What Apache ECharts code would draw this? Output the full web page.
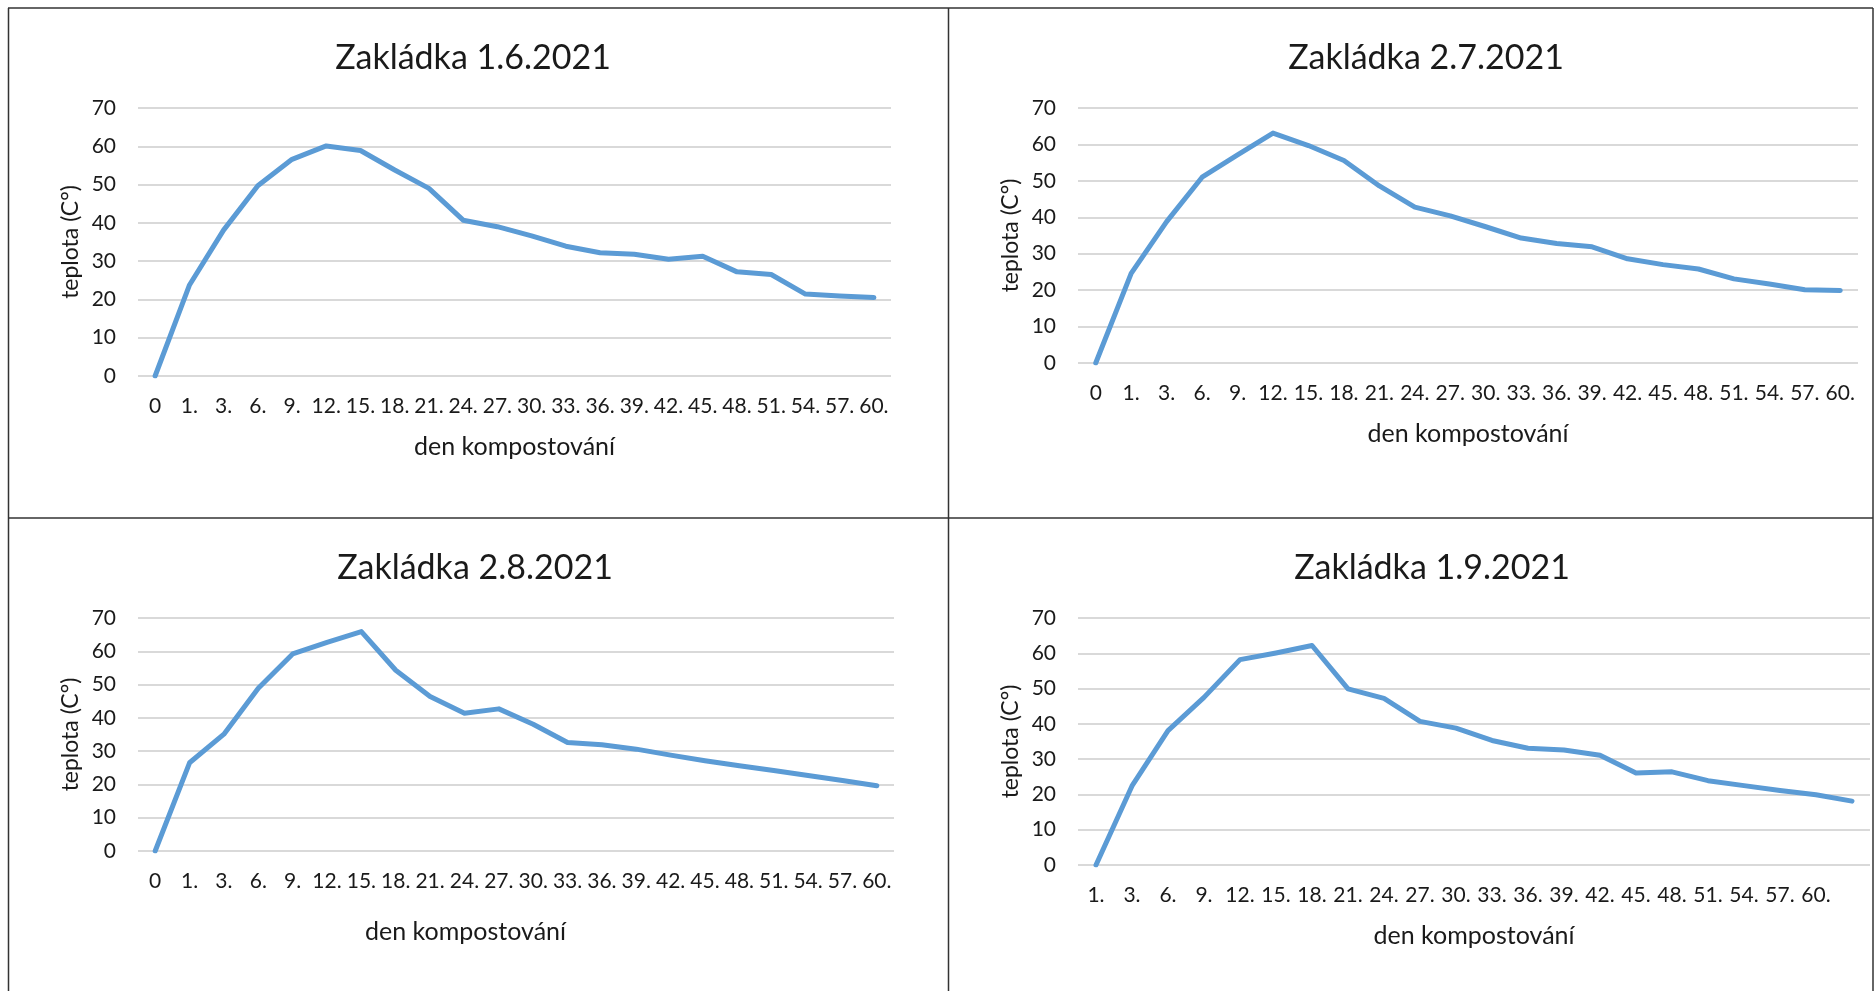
<!DOCTYPE html>
<html>
<head>
<meta charset="utf-8">
<title>Zakládky kompostu 2021</title>
<script src="https://cdn.jsdelivr.net/npm/echarts@6/dist/echarts.min.js"></script>
<style>
  html, body { margin: 0; padding: 0; background: #fff; }
  #chart { width: 1874px; height: 991px; }
</style>
</head>
<body>
<div id="chart"></div>
<script>
// Day labels on the x axis
const daysFromZero = ['0', '1.', '3.', '6.', '9.', '12.', '15.', '18.', '21.', '24.', '27.', '30.',
  '33.', '36.', '39.', '42.', '45.', '48.', '51.', '54.', '57.', '60.'];
const daysFromOne = ['1.', '3.', '6.', '9.', '12.', '15.', '18.', '21.', '24.', '27.', '30.',
  '33.', '36.', '39.', '42.', '45.', '48.', '51.', '54.', '57.', '60.', ''];

// Temperature of each batch (°C)
const temp_1_6 = [0, 23.7, 38.1, 49.7, 56.6, 60.1, 58.9, 53.8, 49.0, 40.7, 39.0, 36.6,
  33.9, 32.2, 31.8, 30.5, 31.3, 27.2, 26.5, 21.4, 20.9, 20.5];
const temp_2_7 = [0, 24.6, 38.8, 51.0, 57.1, 63.1, 59.7, 55.6, 48.6, 42.8, 40.4, 37.4,
  34.3, 32.8, 31.9, 28.6, 27.0, 25.8, 23.1, 21.7, 20.1, 19.9];
const temp_2_8 = [0, 26.5, 35.1, 48.9, 59.2, 62.7, 65.9, 54.3, 46.4, 41.4, 42.7, 38.1,
  32.6, 31.9, 30.6, 28.8, 27.1, 25.6, 24.2, 22.7, 21.2, 19.6];
const temp_1_9 = [0, 22.4, 38.1, 47.5, 58.2, 60.1, 62.2, 49.9, 47.2, 40.7, 38.8, 35.3,
  33.1, 32.6, 31.1, 26.1, 26.4, 23.9, 22.5, 21.1, 19.9, 18.1];

// Y axis ticks
const yMin = 0, yMax = 70, yStep = 10;

const titles = ['Zakládka 1.6.2021', 'Zakládka 2.7.2021', 'Zakládka 2.8.2021', 'Zakládka 1.9.2021'];
const xName = 'den kompostování';
const yName = 'teplota (C°)';

const FONT = 'Lato, "Open Sans", sans-serif';
const TEXT = '#1a1a1a';
const LINE = '#5B9BD5';

const panels = [
  { days: daysFromZero, values: temp_1_6, grid: { left: 138, top: 108, width: 753, height: 268 }, titleX: 468, titleY: 53, nameGap: 58, namePad: [0, 0, 0, 0] },
  { days: daysFromZero, values: temp_2_7, grid: { left: 1078, top: 108, width: 780, height: 255 }, titleX: 1421, titleY: 53, nameGap: 58, namePad: [0, 0, 0, 0] },
  { days: daysFromZero, values: temp_2_8, grid: { left: 138, top: 618, width: 756, height: 233 }, titleX: 470, titleY: 563, nameGap: 68, namePad: [0, 101, 0, 0] },
  { days: daysFromOne, values: temp_1_9, grid: { left: 1078, top: 618, width: 792, height: 247 }, titleX: 1427, titleY: 563, nameGap: 58, namePad: [0, 0, 0, 0] }
];

const option = {
  backgroundColor: '#fff',
  animation: false,
  title: panels.map((p, i) => ({
    text: titles[i],
    left: p.titleX,
    top: p.titleY,
    textAlign: 'center',
    textVerticalAlign: 'middle',
    textStyle: { fontFamily: FONT, fontSize: 34, fontWeight: 'normal', color: TEXT }
  })),
  grid: panels.map(p => Object.assign({ containLabel: false }, p.grid)),
  xAxis: panels.map((p, i) => ({
    type: 'category',
    gridIndex: i,
    data: p.days,
    boundaryGap: true,
    axisLine: { show: false },
    axisTick: { show: false },
    axisLabel: { interval: 0, margin: 20, color: TEXT, fontFamily: FONT, fontSize: 21 },
    name: xName,
    nameLocation: 'middle',
    nameGap: p.nameGap,
    nameTextStyle: { color: TEXT, fontFamily: FONT, fontSize: 25, padding: p.namePad }
  })),
  yAxis: panels.map((p, i) => ({
    type: 'value',
    gridIndex: i,
    min: yMin,
    max: yMax,
    interval: yStep,
    axisLine: { show: false },
    axisTick: { show: false },
    axisLabel: { margin: 22, color: TEXT, fontFamily: FONT, fontSize: 21 },
    splitLine: { lineStyle: { color: '#d9d9d9', width: 2 } },
    name: yName,
    nameLocation: 'middle',
    nameGap: 56,
    nameTextStyle: { color: TEXT, fontFamily: FONT, fontSize: 23 }
  })),
  series: panels.map((p, i) => ({
    type: 'line',
    xAxisIndex: i,
    yAxisIndex: i,
    data: p.values,
    showSymbol: false,
    lineStyle: { color: LINE, width: 5, cap: 'round', join: 'round' },
    itemStyle: { color: LINE }
  })),
  // Cell borders of the 2x2 layout
  graphic: [
    { type: 'line', shape: { x1: 8, y1: 8, x2: 1873, y2: 8 }, style: { stroke: '#333', lineWidth: 1.5 } },
    { type: 'line', shape: { x1: 8, y1: 518, x2: 1873, y2: 518 }, style: { stroke: '#333', lineWidth: 1.5 } },
    { type: 'line', shape: { x1: 8.5, y1: 8, x2: 8.5, y2: 991 }, style: { stroke: '#333', lineWidth: 1.5 } },
    { type: 'line', shape: { x1: 948.5, y1: 8, x2: 948.5, y2: 991 }, style: { stroke: '#333', lineWidth: 1.5 } },
    { type: 'line', shape: { x1: 1873, y1: 8, x2: 1873, y2: 991 }, style: { stroke: '#333', lineWidth: 1.5 } }
  ]
};

const chart = echarts.init(document.getElementById('chart'), null, { renderer: 'canvas' });
chart.setOption(option);
</script>
</body>
</html>
